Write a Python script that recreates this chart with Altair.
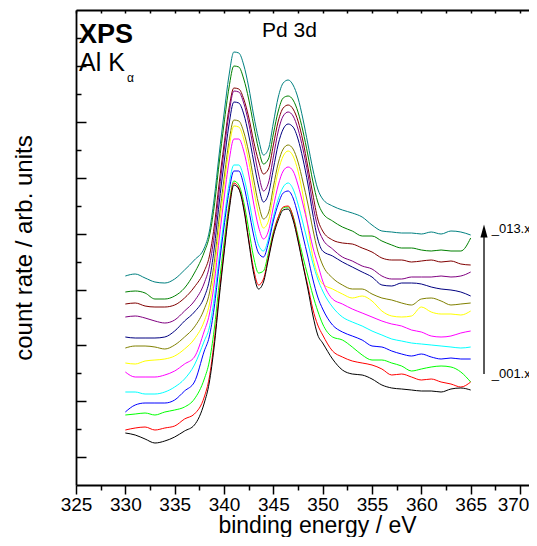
import altair as alt
import pandas as pd

# ---------------- data ----------------
energy_eV = [330, 331, 332, 333, 334, 335, 336, 337, 338, 338.5, 339, 339.5, 340, 340.5,
             341, 341.5, 342, 342.5, 343, 343.5, 344, 344.5, 345, 345.5, 346, 346.5, 347,
             347.5, 348, 348.5, 349, 349.5, 350, 351, 352, 353, 354, 355, 356, 357, 358,
             359, 360, 361, 362, 363, 364, 365]

scan_001 = [52, 50, 46, 42, 44, 48, 54, 60, 82, 102, 138, 186, 231, 273, 300, 296, 276, 244, 212, 196, 203, 226, 249, 265, 275, 276, 265, 244, 220, 196, 170, 150, 142, 126, 115, 111, 110, 106, 100, 97, 96, 95, 94, 94, 93, 96, 97, 95]
scan_002 = [55, 57, 58, 55, 57, 59, 66, 71, 88, 107, 143, 190, 234, 276, 302, 297, 278, 246, 216, 200, 206, 228, 251, 268, 278, 279, 268, 246, 221, 199, 176, 160, 150, 134, 128, 124, 122, 120, 116, 110, 111, 108, 105, 106, 103, 101, 98, 103]
scan_003 = [70, 71, 72, 70, 73, 75, 78, 86, 106, 123, 155, 200, 242, 280, 304, 300, 283, 256, 228, 212, 214, 232, 253, 268, 277, 278, 269, 249, 228, 209, 190, 174, 161, 148, 145, 138, 130, 125, 125, 122, 119, 114, 116, 118, 119, 118, 113, 103]
scan_004 = [73, 80, 82, 82, 82, 85, 94, 103, 134, 148, 177, 219, 258, 293, 314, 314, 300, 276, 250, 232, 228, 242, 264, 281, 292, 294, 287, 270, 249, 228, 206, 188, 176, 160, 153, 149, 145, 139, 138, 134, 131, 129, 131, 128, 126, 127, 126, 126]
scan_005 = [93, 93, 91, 91, 93, 98, 106, 120, 144, 157, 186, 227, 265, 300, 320, 320, 308, 286, 260, 240, 234, 246, 268, 286, 298, 302, 296, 281, 262, 242, 222, 206, 194, 178, 168, 163, 159, 154, 150, 146, 144, 142, 141, 140, 139, 138, 137, 138]
scan_006 = [113, 108, 108, 108, 110, 114, 121, 128, 154, 170, 201, 245, 286, 323, 346, 346, 334, 311, 282, 258, 246, 254, 278, 300, 314, 318, 314, 300, 281, 260, 238, 221, 204, 186, 181, 176, 172, 168, 164, 161, 159, 155, 153, 149, 148, 149, 152, 154]
scan_007 = [122, 121, 124, 125, 126, 129, 136, 146, 164, 180, 212, 256, 298, 336, 359, 358, 346, 324, 296, 271, 257, 264, 290, 314, 329, 334, 329, 314, 290, 258, 228, 210, 201, 196, 191, 187, 189, 184, 174, 169, 168, 169, 178, 173, 171, 171, 170, 174]
scan_008 = [137, 139, 139, 138, 136, 140, 148, 158, 176, 191, 222, 266, 306, 343, 365, 364, 353, 333, 306, 281, 266, 272, 298, 322, 336, 340, 336, 323, 303, 281, 256, 234, 220, 207, 200, 196, 196, 191, 187, 185, 182, 180, 186, 187, 184, 180, 181, 182]
scan_009 = [148, 147, 147, 147, 148, 154, 164, 173, 188, 204, 236, 281, 322, 360, 383, 382, 371, 350, 324, 299, 283, 291, 316, 341, 356, 361, 358, 346, 326, 301, 271, 246, 234, 229, 223, 218, 213, 208, 200, 199, 202, 202, 201, 198, 196, 195, 193, 189]
scan_010 = [168, 169, 167, 164, 162, 165, 174, 184, 202, 218, 249, 293, 334, 371, 394, 393, 382, 362, 336, 311, 294, 302, 328, 354, 369, 373, 369, 356, 336, 311, 281, 258, 246, 236, 228, 224, 219, 216, 209, 206, 206, 208, 208, 208, 209, 208, 209, 213]
scan_011 = [181, 182, 179, 178, 178, 180, 187, 198, 214, 228, 258, 301, 340, 376, 397, 396, 386, 368, 344, 324, 311, 316, 340, 364, 377, 380, 376, 364, 344, 318, 291, 266, 254, 245, 242, 241, 237, 233, 227, 225, 225, 223, 224, 225, 223, 224, 221, 220]
scan_012 = [193, 194, 192, 186, 186, 189, 197, 212, 233, 248, 278, 321, 361, 397, 419, 418, 406, 386, 360, 336, 321, 326, 351, 374, 387, 389, 385, 373, 354, 330, 304, 283, 272, 264, 258, 254, 249, 249, 244, 240, 237, 237, 235, 234, 235, 234, 234, 247]
scan_013 = [209, 211, 207, 203, 202, 206, 215, 225, 237, 253, 286, 330, 371, 409, 433, 432, 420, 398, 370, 346, 330, 336, 362, 388, 402, 405, 400, 387, 366, 341, 316, 296, 286, 279, 275, 272, 268, 260, 254, 253, 252, 252, 251, 253, 251, 254, 253, 250]

scan_names = ["_001.xps", "_002.xps", "_003.xps", "_004.xps", "_005.xps", "_006.xps", "_007.xps",
              "_008.xps", "_009.xps", "_010.xps", "_011.xps", "_012.xps", "_013.xps"]
scan_values = [scan_001, scan_002, scan_003, scan_004, scan_005, scan_006, scan_007,
               scan_008, scan_009, scan_010, scan_011, scan_012, scan_013]
scan_colors = ["#000000", "#ff0000", "#00ff00", "#0000ff", "#00ffff", "#ff00ff", "#ffff00",
               "#808000", "#000080", "#800080", "#800000", "#008000", "#008080"]

x_major_ticks = [325, 330, 335, 340, 345, 350, 355, 360, 365, 370]
x_minor_ticks = [327.5, 332.5, 337.5, 342.5, 347.5, 352.5, 357.5, 362.5, 367.5]
x_top_ticks = [325, 327.5, 330, 332.5, 335, 337.5, 340, 342.5, 345, 347.5, 350, 352.5, 355,
               357.5, 360, 362.5, 365, 367.5, 370]
y_major_ticks = [28, 84, 140, 195, 251, 307, 363, 419]
y_minor_ticks = [56, 112, 167, 223, 279, 335, 391, 447]

# annotations (data coordinates)
arrow_E = [366.35]
arrow_h_from = [111]
arrow_h_to = [248]
arrow_head_h = [254]
scan_label_E = [367.13, 367.13]
scan_label_h = [252.5, 107]
scan_label_text = ["_013.xps", "_001.xps"]

FONT = "Liberation Sans"
W, H = 453, 475

rows = []
for name, vals in reversed(list(zip(scan_names, scan_values))):
    for e, v in zip(energy_eV, vals):
        rows.append({"E": e, "h": v, "scan": name})
df = pd.DataFrame(rows)

xs = alt.Scale(domain=[325, 370.91], nice=False, zero=False)
ys = alt.Scale(domain=[0, 475], nice=False, zero=False)

lines = alt.Chart(df).mark_line(strokeWidth=1.0, interpolate="monotone").encode(
    x=alt.X("E:Q", scale=xs, axis=alt.Axis(
        orient="bottom", values=x_major_ticks, tickSize=9, tickWidth=1.5, tickColor="black",
        domainColor="black", domainWidth=1.8, labelFont=FONT, labelFontSize=19,
        labelColor="black", labelBaseline="alphabetic", labelPadding=16, labelFlush=False,
        labelOverlap=False,
        labelOffset={"condition": {"test": "datum.value == 370", "value": -7}, "value": 0},
        grid=False, title="binding energy / eV", titleFont=FONT,
        titleFontSize=23, titleFontWeight="normal", titleColor="black",
        titleBaseline="alphabetic", titleX=241, titleY=47)),
    y=alt.Y("h:Q", scale=ys, axis=alt.Axis(
        orient="right", offset=-W, values=y_major_ticks, tickSize=10, tickWidth=1.5,
        tickColor="black", domainColor="black", domainWidth=1.8, labels=False,
        grid=False, title=None)),
    color=alt.Color("scan:N", scale=alt.Scale(domain=scan_names, range=scan_colors), legend=None),
)

arrow_df = pd.DataFrame({"E": arrow_E, "h1": arrow_h_from, "h2": arrow_h_to})
arrow = alt.Chart(arrow_df).mark_rule(color="black", strokeWidth=1.3).encode(
    x=alt.X("E:Q", scale=xs, axis=alt.Axis(
        orient="bottom", values=x_minor_ticks, tickSize=5, tickWidth=1.5, tickColor="black",
        labels=False, domain=False, grid=False, title=None)),
    y=alt.Y("h1:Q", scale=ys, axis=alt.Axis(
        orient="right", offset=-W, values=y_minor_ticks, tickSize=5, tickWidth=1.5,
        tickColor="black", labels=False, domain=False, grid=False, title=None)),
    y2="h2:Q",
)

head_df = pd.DataFrame({"E": arrow_E, "h": arrow_head_h})
head = alt.Chart(head_df).mark_point(
    shape="M0,-1L0.55,1L-0.55,1Z", filled=True, color="black", opacity=1, size=169
).encode(
    x=alt.X("E:Q", scale=xs, axis=alt.Axis(
        orient="bottom", offset=-H, values=x_top_ticks, tickSize=3, tickWidth=1.5,
        tickColor="black", domainColor="black", domainWidth=1.8, labels=False,
        grid=False, title=None)),
    y=alt.Y("h:Q", scale=ys, axis=alt.Axis(
        orient="left", ticks=False, labels=False, domain=False, grid=False,
        title="count rate / arb. units", titleFont=FONT, titleFontSize=24,
        titleFontWeight="normal", titleColor="black", titleBaseline="alphabetic",
        titlePadding=45)),
)


def label(text, E, h, size, weight="normal", align="left", baseline="alphabetic"):
    d = pd.DataFrame({"E": [E], "h": [h], "t": [text]})
    return alt.Chart(d).mark_text(
        font=FONT, fontSize=size, fontWeight=weight, align=align, baseline=baseline,
        color="black"
    ).encode(
        x=alt.X("E:Q", scale=xs, axis=None),
        y=alt.Y("h:Q", scale=ys, axis=None),
        text="t:N",
    )


t_xps = label("XPS", 325.3, 442, 27, weight="bold")
t_alk = label("Al K", 325.3, 414, 25)
t_alpha = label("α", 330.17, 403, 12)
t_pd = label("Pd 3d", 343.85, 448.5, 21)

scan_lab_df = pd.DataFrame({"E": scan_label_E, "h": scan_label_h, "t": scan_label_text})
t_scans = alt.Chart(scan_lab_df).mark_text(
    font=FONT, fontSize=13, align="left", baseline="alphabetic", color="black"
).encode(
    x=alt.X("E:Q", scale=xs, axis=None),
    y=alt.Y("h:Q", scale=ys, axis=None),
    text="t:N",
)

chart = alt.layer(
    lines, arrow, head, t_xps, t_alk, t_alpha, t_pd, t_scans
).resolve_axis(
    x="independent", y="independent"
).properties(
    width=W, height=H,
    padding={"left": 68, "top": 2, "right": 0, "bottom": 52},
    autosize=alt.AutoSizeParams(type="none"),
).configure_view(
    strokeWidth=0
)

chart.save("out.html", embed_options={"renderer": "svg", "actions": False})
